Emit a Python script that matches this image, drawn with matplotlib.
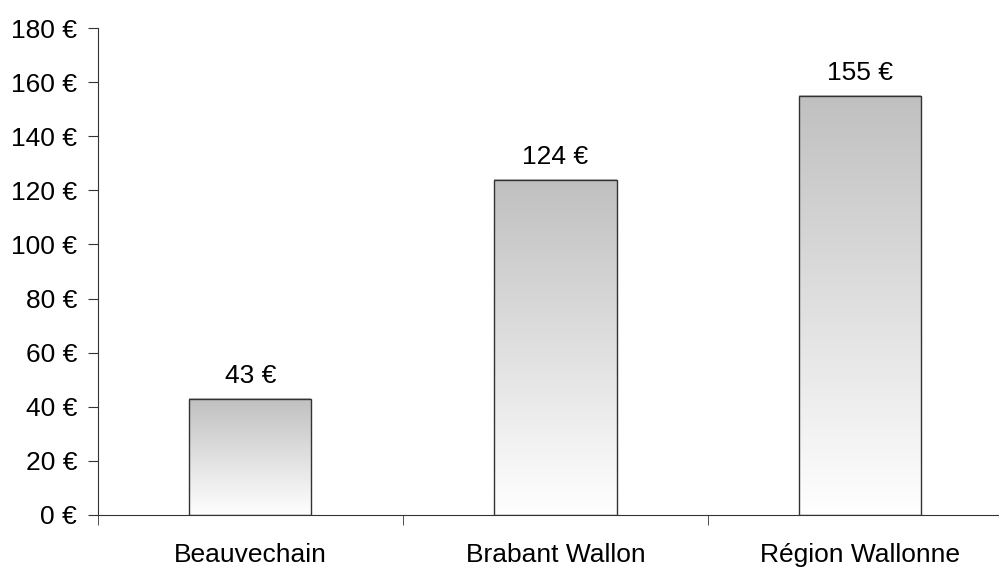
import numpy as np
import matplotlib.pyplot as plt

plt.rcParams['font.family'] = ['Liberation Sans', 'DejaVu Sans']

categories = ['Beauvechain', 'Brabant Wallon', 'Région Wallonne']
values = [43, 124, 155]
yticks = [0, 20, 40, 60, 80, 100, 120, 140, 160, 180]

fig = plt.figure(figsize=(9.99, 5.70), dpi=100)
ax = fig.add_axes([98 / 999, 55 / 570, 1 - 98 / 999, (515 - 28) / 570])

x = np.arange(len(categories))
width = 0.4
grad = np.linspace(1.0, 0.0, 256).reshape(-1, 1)
cmap = plt.matplotlib.colors.LinearSegmentedColormap.from_list('g', ['#ffffff', '#c0c0c0'])

bars = ax.bar(x, values, width=width, color='none', edgecolor='#333333', linewidth=1.0, zorder=3)
for b, v in zip(bars, values):
    x0 = b.get_x()
    ax.imshow(grad, extent=[x0, x0 + width, 0, v], aspect='auto', cmap=cmap,
              vmin=0, vmax=1, origin='upper', zorder=2)
    ax.text(b.get_x() + width / 2, v + 4, f'{v} €', ha='center', va='bottom', fontsize=19)

ax.set_yticks(yticks)
ax.set_yticklabels([f'{t} €' for t in yticks], fontsize=19)
ax.set_xticks(x)
ax.set_xticklabels(categories, fontsize=19)
ax.set_xticks([-0.5, 0.5, 1.5, 2.5], minor=True)
ax.set_xlim(-0.5, 2.5 - 14 / 305)
ax.set_ylim(0, 180)
ax.tick_params(axis='x', which='major', length=0, pad=20)
ax.tick_params(axis='x', which='minor', length=7, color='#333333', direction='out')
ax.tick_params(axis='y', length=7, color='#333333', pad=8)
for s in ['top', 'right']:
    ax.spines[s].set_visible(False)
for s in ['left', 'bottom']:
    ax.spines[s].set_color('#333333')

fig.savefig('out.png', dpi=100)
